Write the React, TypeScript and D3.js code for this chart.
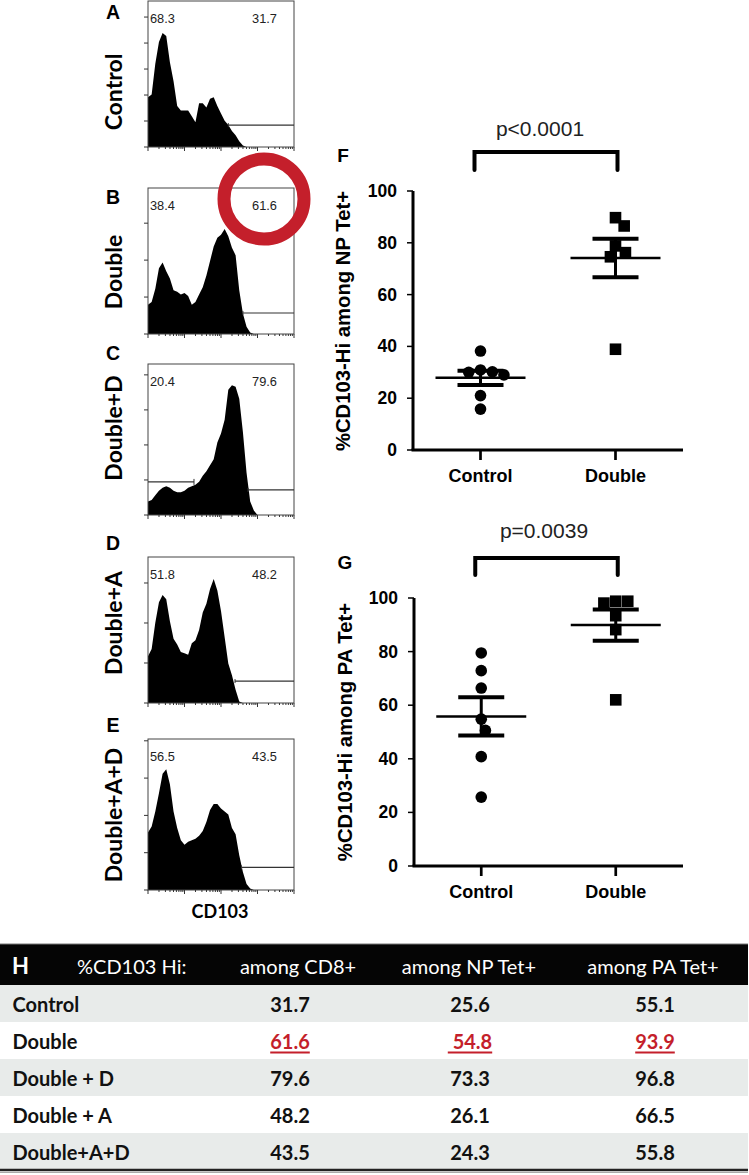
import React from 'react';
import * as d3 from 'd3';

// ---------------- DATA ----------------
// Flow histograms (A–E): CD103 fluorescence profiles, % of panel height per 2.5-channel bin
const histLetters = ['A', 'B', 'C', 'D', 'E'];
const histLabels = ['Control', 'Double', 'Double+D', 'Double+A', 'Double+A+D'];
const histLeftPct = ['68.3', '38.4', '20.4', '51.8', '56.5'];
const histRightPct = ['31.7', '61.6', '79.6', '48.2', '43.5'];
const histBinWidth = 2.5;
const histControl = [34, 36, 57, 72, 78, 76, 58, 45, 28, 25, 25, 25, 21, 17, 30, 30, 27, 33, 34, 28, 23, 18, 15, 11, 8, 4, 1, 0];
const histDouble = [20, 22, 31, 45, 49, 43, 38, 30, 29, 27, 28, 26, 20, 22, 27, 32, 40, 50, 60, 66, 68, 72, 67, 59, 54, 30, 14, 5, 1, 0];
const histDoubleD = [9, 10, 13, 16, 18, 19, 18, 16, 15, 15, 16, 18, 19, 20, 22, 26, 29, 33, 37, 48, 54, 63, 83, 86, 85, 77, 55, 28, 9, 3, 0];
const histDoubleA = [32, 37, 55, 69, 74, 71, 56, 44, 40, 35, 34, 33, 41, 43, 50, 62, 68, 78, 85, 77, 63, 45, 27, 19, 9, 1, 0];
const histDoubleAD = [38, 42, 52, 64, 77, 80, 70, 52, 41, 33, 30, 32, 33, 34, 36, 39, 45, 53, 57, 57, 54, 52, 50, 41, 37, 23, 12, 4, 1, 0];
const histSeries = [histControl, histDouble, histDoubleD, histDoubleA, histDoubleAD];
// gates (channel units, % height)
const gateStart = [55, 65, 68.5, 59.6, 64];
const gateLevel = [15, 14.4, 16.6, 15, 15];
const gateLeftEnd = [null, null, 31.5, null, null];
const gateLeftLevel = [null, null, 21.9, null, null];
const histTickStep = [17.8, 25.3, 23.2, 27.4, 24.7];

// Scatter F / G
const groups = ['Control', 'Double'];
const npControl = [38.2, 30.9, 30.2, 30.0, 29.0, 21.0, 15.8];
const npDouble = [89.7, 86.5, 78.8, 76.2, 74.6, 38.9];
const paControl = [79.5, 72.9, 66.4, 54.8, 50.6, 40.8, 25.7];
const paDouble = [98.8, 98.1, 98.8, 93.4, 88.2, 62.0];
const yTicks = [0, 20, 40, 60, 80, 100];
const pValues = ['p<0.0001', 'p=0.0039'];
const yLabels = ['%CD103-Hi among NP Tet+', '%CD103-Hi among PA Tet+'];

// Table H
const tableRows = ['Control', 'Double', 'Double + D', 'Double + A', 'Double+A+D'];
const tableCols = ['among CD8+', 'among NP Tet+', 'among PA Tet+'];
const colCD8 = ['31.7', '61.6', '79.6', '48.2', '43.5'];
const colNP = ['25.6', ' 54.8', '73.3', '26.1', '24.3'];
const colPA = ['55.1', '93.9', '96.8', '66.5', '55.8'];
const highlightRow = 'Double';

// ---------------- LAYOUT ----------------
const W = 749, H = 1175;
const ARIAL = "'Liberation Sans', Arial, sans-serif";
const LATO = "Lato, 'Open Sans', sans-serif";
const RED = '#c41f2b';

const hLeft = 148, hRight = 294;
const panelTop = [1, 188, 364, 557, 739];
const panelBottom = [147, 334, 515, 703, 890];
const labelCY = [92, 272, 428, 623, 815];
const letterCY = [12, 197, 353, 543, 725];

function Histogram({ i }: { i: number }) {
  const top = panelTop[i], bottom = panelBottom[i];
  const x = d3.scaleLinear().domain([0, 100]).range([hLeft, hRight]);
  const y = d3.scaleLinear().domain([0, 100]).range([bottom, top]);
  const data = histSeries[i];
  const area = d3.area<number>()
    .x((_, k) => x(k * histBinWidth))
    .y0(bottom)
    .y1((d) => y(d));
  const logX = d3.scaleLog().domain([1, 1e4]).range([hLeft, hRight]);
  const bticks: { v: number; major: boolean }[] = [];
  for (let k = 0; k < 4; k++) for (let m = 1; m < 10; m++) bticks.push({ v: m * Math.pow(10, k), major: m === 1 });
  bticks.push({ v: 1e4, major: true });
  const lticks = d3.range(0, 100, histTickStep[i]);
  const gl = gateLeftEnd[i];
  return (
    <g>
      <path d={area(data) || ''} fill="#000" />
      <rect x={hLeft} y={top} width={hRight - hLeft} height={bottom - top} fill="none" stroke="#444" strokeWidth={1} />
      {bticks.map((t, k) => (
        <line key={k} x1={logX(t.v)} x2={logX(t.v)} y1={bottom} y2={bottom + (t.major ? 4 : 2)} stroke="#333" strokeWidth={1} />
      ))}
      {lticks.map((t, k) => (
        <line key={k} x1={hLeft - 4} x2={hLeft} y1={y(t)} y2={y(t)} stroke="#333" strokeWidth={1} />
      ))}
      <line x1={x(gateStart[i])} x2={hRight} y1={y(gateLevel[i])} y2={y(gateLevel[i])} stroke="#333" strokeWidth={1.2} />
      <line x1={x(gateStart[i])} x2={x(gateStart[i])} y1={y(gateLevel[i]) - 2} y2={y(gateLevel[i]) + 2} stroke="#333" strokeWidth={1} />
      {gl !== null && (
        <g>
          <line x1={hLeft} x2={x(gl)} y1={y(gateLeftLevel[i] as number)} y2={y(gateLeftLevel[i] as number)} stroke="#333" strokeWidth={1.2} />
          <line x1={x(gl)} x2={x(gl)} y1={y(gateLeftLevel[i] as number) - 3} y2={y(gateLeftLevel[i] as number) + 3} stroke="#333" strokeWidth={1} />
        </g>
      )}
      <text x={hLeft + 2} y={top + 17.5} fontFamily={ARIAL} fontSize={12.8} fill="#222" dominantBaseline="central">{histLeftPct[i]}</text>
      <text x={hRight - 17} y={top + 17.5} fontFamily={ARIAL} fontSize={12.8} fill="#222" dominantBaseline="central" textAnchor="end">{histRightPct[i]}</text>
      <text x={113} y={letterCY[i]} fontFamily={ARIAL} fontWeight="bold" fontSize={19.5} textAnchor="middle" dominantBaseline="central">{histLetters[i]}</text>
      <text transform={`translate(113,${labelCY[i]}) rotate(-90)`} fontFamily={LATO} fontWeight="bold" fontSize={23} textAnchor="middle" dominantBaseline="central">{histLabels[i]}</text>
    </g>
  );
}

function swarm(values: number[], yPix: (v: number) => number, diam: number) {
  const placed: { y: number; dx: number }[] = [];
  const order = values.map((v, i) => ({ v, i })).sort((a, b) => b.v - a.v);
  const out: number[] = new Array(values.length).fill(0);
  for (const { v, i } of order) {
    const yy = yPix(v);
    const cands = [0];
    for (const p of placed) {
      const dy = Math.abs(p.y - yy);
      if (dy < diam) {
        const dxn = Math.sqrt(diam * diam - dy * dy);
        cands.push(p.dx + dxn, p.dx - dxn);
      }
    }
    cands.sort((a, b) => Math.abs(a) - Math.abs(b));
    let best = 0;
    for (const c of cands) {
      if (placed.every((p) => (p.dx - c) ** 2 + (p.y - yy) ** 2 >= diam * diam - 0.01)) { best = c; break; }
    }
    placed.push({ y: yy, dx: best });
    out[i] = best;
  }
  return out;
}

function Scatter({ idx, control, double, axisX, y0, y100, letterPos, pPos, bracketTop, bracketBottom, labelPos }: any) {
  const xRight = 683;
  const y = d3.scaleLinear().domain([0, 100]).range([y0, y100]);
  const x = d3.scalePoint<string>().domain(groups).range([axisX, xRight]).padding(0.5);
  const sets = [control, double];
  return (
    <g>
      <line x1={axisX} x2={axisX} y1={y(100)} y2={y0} stroke="#000" strokeWidth={3} />
      <line x1={axisX - 1.5} x2={xRight} y1={y0} y2={y0} stroke="#000" strokeWidth={3} />
      {yTicks.map((t) => (
        <g key={t}>
          <line x1={axisX - 6} x2={axisX} y1={y(t)} y2={y(t)} stroke="#000" strokeWidth={1.5} />
          <text x={axisX - 16} y={y(t)} textAnchor="end" dominantBaseline="central" fontFamily={ARIAL} fontWeight="bold" fontSize={17.5}>{t}</text>
        </g>
      ))}
      {groups.map((g) => (
        <g key={g}>
          <line x1={x(g)} x2={x(g)} y1={y0} y2={y0 + 10} stroke="#000" strokeWidth={2.7} />
          <text x={x(g)} y={y0 + 26} textAnchor="middle" dominantBaseline="central" fontFamily={ARIAL} fontWeight="bold" fontSize={18}>{g}</text>
        </g>
      ))}
      {sets.map((vals: number[], gi: number) => {
        const cx = x(groups[gi]) as number;
        const offs = swarm(vals, (v) => y(v), 12);
        return vals.map((v, k) => gi === 0 ? (
          <circle key={`${gi}-${k}`} cx={cx + offs[k]} cy={y(v)} r={5.8} fill="#000" />
        ) : (
          <rect key={`${gi}-${k}`} x={cx + offs[k] - 5.8} y={y(v) - 5.8} width={11.6} height={11.6} fill="#000" />
        ));
      })}
      {sets.map((vals: number[], gi: number) => {
        const cx = x(groups[gi]) as number;
        const m = d3.mean(vals) as number;
        const sem = (d3.deviation(vals) as number) / Math.sqrt(vals.length);
        return (
          <g key={`m${gi}`}>
            <line x1={cx - 45} x2={cx + 45} y1={y(m)} y2={y(m)} stroke="#000" strokeWidth={2.5} />
            <line x1={cx} x2={cx} y1={y(m + sem)} y2={y(m - sem)} stroke="#000" strokeWidth={3} />
            <line x1={cx - 23} x2={cx + 23} y1={y(m + sem)} y2={y(m + sem)} stroke="#000" strokeWidth={4} />
            <line x1={cx - 23} x2={cx + 23} y1={y(m - sem)} y2={y(m - sem)} stroke="#000" strokeWidth={4} />
          </g>
        );
      })}
      <path d={`M${(x('Control') as number) - 6},${bracketBottom}V${bracketTop}H${(x('Double') as number) + 2}V${bracketBottom}`} fill="none" stroke="#000" strokeWidth={4} strokeLinecap="round" />
      <text x={pPos[0]} y={pPos[1]} textAnchor="middle" dominantBaseline="central" fontFamily={ARIAL} fontSize={21} fill="#222">{pValues[idx]}</text>
      <text x={letterPos[0]} y={letterPos[1]} textAnchor="middle" dominantBaseline="central" fontFamily={ARIAL} fontWeight="bold" fontSize={19}>{idx === 0 ? 'F' : 'G'}</text>
      <text transform={`translate(${labelPos[0]},${labelPos[1]}) rotate(-90)`} textAnchor="middle" dominantBaseline="central" fontFamily={ARIAL} fontWeight="bold" fontSize={20.3}>{yLabels[idx]}</text>
    </g>
  );
}

function Table() {
  const headTop = 944, headBottom = 985, tableBottom = 1170;
  const band = d3.scaleBand<string>().domain(tableRows).range([headBottom, tableBottom]);
  const headCX = [298, 469, 653];
  const numCX = [290, 470, 655];
  const cols = [colCD8, colNP, colPA];
  return (
    <g>
      <rect x={0} y={headTop} width={748} height={headBottom - headTop} fill="#050505" />
      <line x1={0} x2={748} y1={headTop} y2={headTop} stroke="#777" strokeWidth={1} />
      <text x={12} y={(headTop + headBottom) / 2 + 1} dominantBaseline="central" fontFamily={LATO} fontWeight="bold" fontSize={22} fill="#fff">H</text>
      <text x={77} y={(headTop + headBottom) / 2 + 1} dominantBaseline="central" fontFamily={LATO} fontSize={20} fill="#fff">%CD103 Hi:</text>
      {tableCols.map((c, k) => (
        <text key={c} x={headCX[k]} y={(headTop + headBottom) / 2 + 1} textAnchor="middle" dominantBaseline="central" fontFamily={LATO} fontSize={20} fill="#fff">{c}</text>
      ))}
      {tableRows.map((r, ri) => {
        const y0 = band(r) as number;
        const cy = y0 + band.bandwidth() / 2;
        const hl = r === highlightRow;
        return (
          <g key={r}>
            <rect x={0} y={y0} width={748} height={band.bandwidth()} fill={ri % 2 === 0 ? '#e8ebea' : '#ffffff'} />
            <text x={12.5} y={cy} dominantBaseline="central" fontFamily={LATO} fontWeight="bold" fontSize={20} fill="#111">{r}</text>
            {cols.map((col, ci) => (
              <text key={ci} x={numCX[ci]} y={cy} textAnchor="middle" dominantBaseline="central" fontFamily={LATO} fontWeight="bold" fontSize={20}
                fill={hl ? RED : '#111'} style={{ textDecoration: hl ? 'underline' : 'none', whiteSpace: 'pre' }}>{col[ri]}</text>
            ))}
          </g>
        );
      })}
      <line x1={0} x2={748} y1={tableBottom} y2={tableBottom} stroke="#222" strokeWidth={2.5} />
      <line x1={0} x2={748} y1={tableBottom + 2.5} y2={tableBottom + 2.5} stroke="#aaa" strokeWidth={1} />
    </g>
  );
}

export default function App() {
  return (
    <svg width={W} height={H} style={{ position: 'absolute', left: 0, top: 0, background: '#fff' }}>
      <rect x={0} y={0} width={W} height={H} fill="#fff" />
      {histSeries.map((_, i) => <Histogram key={i} i={i} />)}
      <circle cx={264} cy={199} r={40} fill="none" stroke={RED} strokeWidth={13} />
      <text x={220} y={911} textAnchor="middle" dominantBaseline="central" fontFamily={LATO} fontWeight="bold" fontSize={18}>CD103</text>
      <Scatter idx={0} control={npControl} double={npDouble} axisX={413} y0={450} y100={191}
        letterPos={[343, 155]} pPos={[540, 128]} bracketTop={152} bracketBottom={170} labelPos={[343, 321]} />
      <Scatter idx={1} control={paControl} double={paDouble} axisX={414} y0={866} y100={598}
        letterPos={[345, 562]} pPos={[544, 530]} bracketTop={558} bracketBottom={575} labelPos={[345, 732]} />
      <Table />
    </svg>
  );
}
